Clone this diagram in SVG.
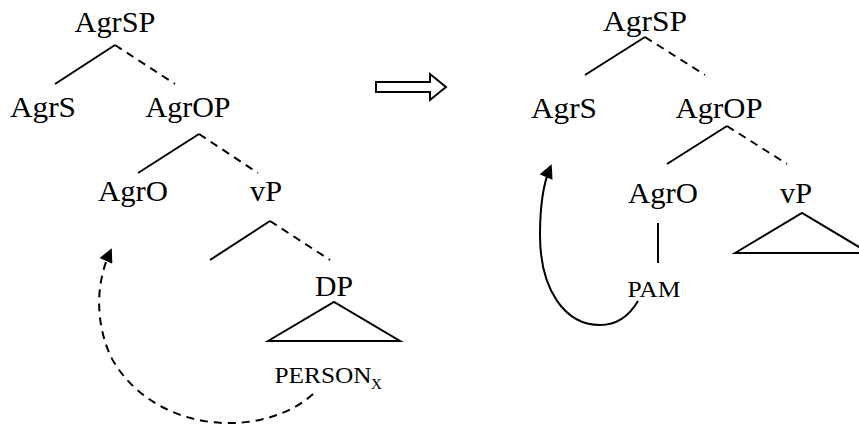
<svg xmlns="http://www.w3.org/2000/svg" width="859" height="427" viewBox="0 0 859 427">
<defs>
<style>
.t{font-family:"Liberation Serif","Times New Roman",serif;font-size:30px;fill:#000;text-anchor:middle}
.s{font-family:"Liberation Serif","Times New Roman",serif;font-size:24px;fill:#000;text-anchor:middle}
.sub{font-family:"Liberation Serif","Times New Roman",serif;font-size:15px;fill:#000}
.l{stroke:#000;stroke-width:2;fill:none}
.d{stroke:#000;stroke-width:2;fill:none;stroke-dasharray:8,6}
</style>
<marker id="ah" viewBox="0 0 10 10" refX="7" refY="5" markerWidth="15" markerHeight="14" orient="auto" markerUnits="userSpaceOnUse">
<path d="M0,0 L10,5 L0,10 z" fill="#000" stroke="none"/>
</marker>
</defs>
<rect width="859" height="427" fill="#fff"/>
<g id="left-AgrSP"><text class="t" x="115" y="32" textLength="81" lengthAdjust="spacingAndGlyphs">AgrSP</text></g>
<g id="left-AgrS"><text class="t" x="43" y="117" textLength="66" lengthAdjust="spacingAndGlyphs">AgrS</text></g>
<g id="left-AgrOP"><text class="t" x="188" y="117" textLength="85" lengthAdjust="spacingAndGlyphs">AgrOP</text></g>
<g id="left-AgrO"><text class="t" x="133" y="201" textLength="70" lengthAdjust="spacingAndGlyphs">AgrO</text></g>
<g id="left-vP"><text class="t" x="266" y="201" textLength="32" lengthAdjust="spacingAndGlyphs">vP</text></g>
<g id="left-DP"><text class="t" x="334" y="296" textLength="38" lengthAdjust="spacingAndGlyphs">DP</text></g>
<g id="left-PERSON"><text class="s" x="323" y="383" textLength="97" lengthAdjust="spacingAndGlyphs">PERSON</text><text class="sub" x="371" y="389">X</text></g>
<g id="left-DP-triangle"><path class="l" d="M268,341 L334,302 L400,341 Z"/></g>
<g id="transform-arrow"><path d="M376,82 L430,82 L430,74 L446,87 L430,100 L430,92 L376,92 Z" fill="#fff" stroke="#000" stroke-width="2"/></g>
<g id="right-AgrSP"><text class="t" x="645" y="31" textLength="84" lengthAdjust="spacingAndGlyphs">AgrSP</text></g>
<g id="right-AgrS"><text class="t" x="564" y="118" textLength="66" lengthAdjust="spacingAndGlyphs">AgrS</text></g>
<g id="right-AgrOP"><text class="t" x="719" y="118" textLength="87" lengthAdjust="spacingAndGlyphs">AgrOP</text></g>
<g id="right-AgrO"><text class="t" x="663" y="203" textLength="70" lengthAdjust="spacingAndGlyphs">AgrO</text></g>
<g id="right-vP"><text class="t" x="796" y="203" textLength="32" lengthAdjust="spacingAndGlyphs">vP</text></g>
<g id="right-PAM"><text class="s" x="654" y="297" textLength="53" lengthAdjust="spacingAndGlyphs">PAM</text></g>
<g id="right-vP-triangle"><path class="l" d="M735,253 L802,213 L869,253 Z"/></g>
<g id="connectors">
<path class="l" d="M55,84 L115,45"/>
<path class="d" d="M115,45 L175,84"/>
<path class="l" d="M138,173 L199,134"/>
<path class="d" d="M199,134 L258,173"/>
<path class="l" d="M210,260 L270,221"/>
<path class="d" d="M270,221 L330,260"/>
<path class="d" stroke-width="2.5" stroke-dasharray="9,6" d="M313,394 C290,415 255,424 225,423 C175,422 130,395 110,355 C95,320 96,283 110,252" marker-end="url(#ah)"/>
<path class="l" d="M585,75 L645,37"/>
<path class="d" d="M645,37 L705,75"/>
<path class="l" d="M667,164 L727,126"/>
<path class="d" d="M727,126 L787,164"/>
<path class="l" d="M658,223 L658,263"/>
<path class="l" stroke-width="2.5" d="M638,301 C628,318 615,325 600,325 C565,325 540,290 540,235 C540,200 544,182 550,168" marker-end="url(#ah)"/>
</g>
</svg>
